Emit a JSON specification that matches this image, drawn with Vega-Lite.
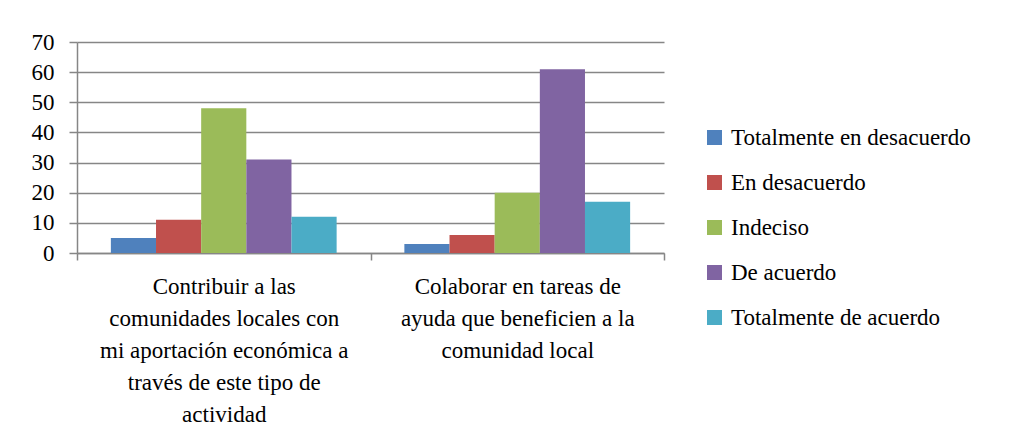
{
  "$schema": "https://vega.github.io/schema/vega-lite/v6.json",
  "autosize": {"type": "none"},
  "width": 587,
  "height": 211,
  "padding": {"left": 77, "top": 42, "right": 354, "bottom": 179},
  "background": "white",
  "config": {
    "view": {"stroke": null}
  },
  "data": {
    "values": [
      {"item": "Contribuir a las|comunidades locales con|mi aportaci\u00f3n econ\u00f3mica a|trav\u00e9s de este tipo de|actividad", "resp": "Totalmente en desacuerdo", "value": 5},
      {"item": "Contribuir a las|comunidades locales con|mi aportaci\u00f3n econ\u00f3mica a|trav\u00e9s de este tipo de|actividad", "resp": "En desacuerdo", "value": 11},
      {"item": "Contribuir a las|comunidades locales con|mi aportaci\u00f3n econ\u00f3mica a|trav\u00e9s de este tipo de|actividad", "resp": "Indeciso", "value": 48},
      {"item": "Contribuir a las|comunidades locales con|mi aportaci\u00f3n econ\u00f3mica a|trav\u00e9s de este tipo de|actividad", "resp": "De acuerdo", "value": 31},
      {"item": "Contribuir a las|comunidades locales con|mi aportaci\u00f3n econ\u00f3mica a|trav\u00e9s de este tipo de|actividad", "resp": "Totalmente de acuerdo", "value": 12},
      {"item": "Colaborar en tareas de|ayuda que beneficien a la|comunidad local", "resp": "Totalmente en desacuerdo", "value": 3},
      {"item": "Colaborar en tareas de|ayuda que beneficien a la|comunidad local", "resp": "En desacuerdo", "value": 6},
      {"item": "Colaborar en tareas de|ayuda que beneficien a la|comunidad local", "resp": "Indeciso", "value": 20},
      {"item": "Colaborar en tareas de|ayuda que beneficien a la|comunidad local", "resp": "De acuerdo", "value": 61},
      {"item": "Colaborar en tareas de|ayuda que beneficien a la|comunidad local", "resp": "Totalmente de acuerdo", "value": 17}
    ]
  },
  "mark": {"type": "bar"},
  "encoding": {
    "x": {
      "field": "item",
      "type": "nominal",
      "sort": null,
      "title": null,
      "scale": {"paddingInner": 0, "paddingOuter": 0},
      "axis": {
        "labelAngle": 0,
        "labelExpr": "split(datum.label, '|')",
        "labelFont": "Liberation Serif",
        "labelFontSize": 23,
        "labelColor": "black",
        "labelLineHeight": 32,
        "labelBaseline": "top",
        "labelPadding": 15,
        "tickBand": "extent",
        "tickSize": 7,
        "tickColor": "#868686",
        "tickWidth": 1.5,
        "domainColor": "#868686",
        "domainWidth": 1.5,
        "grid": false,
        "labelLimit": 400
      }
    },
    "xOffset": {
      "field": "resp",
      "type": "nominal",
      "sort": ["Totalmente en desacuerdo", "En desacuerdo", "Indeciso", "De acuerdo", "Totalmente de acuerdo"],
      "scale": {"paddingInner": 0, "paddingOuter": 0.75}
    },
    "y": {
      "field": "value",
      "type": "quantitative",
      "title": null,
      "scale": {"domain": [0, 70], "nice": false},
      "axis": {
        "values": [0, 10, 20, 30, 40, 50, 60, 70],
        "labelFont": "Liberation Serif",
        "labelFontSize": 23,
        "labelColor": "black",
        "grid": true,
        "gridColor": "#868686",
        "gridWidth": 1.5,
        "tickColor": "#868686",
        "tickWidth": 1.5,
        "tickSize": 8,
        "labelPadding": 15,
        "domainColor": "#868686",
        "domainWidth": 1.5
      }
    },
    "color": {
      "field": "resp",
      "type": "nominal",
      "sort": ["Totalmente en desacuerdo", "En desacuerdo", "Indeciso", "De acuerdo", "Totalmente de acuerdo"],
      "scale": {
        "domain": ["Totalmente en desacuerdo", "En desacuerdo", "Indeciso", "De acuerdo", "Totalmente de acuerdo"],
        "range": ["#4F81BD", "#C0504D", "#9BBB59", "#8064A2", "#4BACC6"]
      },
      "legend": {
        "title": null,
        "orient": "none",
        "legendX": 626,
        "legendY": 84,
        "padding": 0,
        "labelFont": "Liberation Serif",
        "labelFontSize": 23,
        "labelColor": "black",
        "symbolType": "square",
        "symbolSize": 225,
        "symbolStrokeWidth": 0,
        "symbolOpacity": 1,
        "rowPadding": 21,
        "labelOffset": 5,
        "labelLimit": 400
      }
    }
  }
}
